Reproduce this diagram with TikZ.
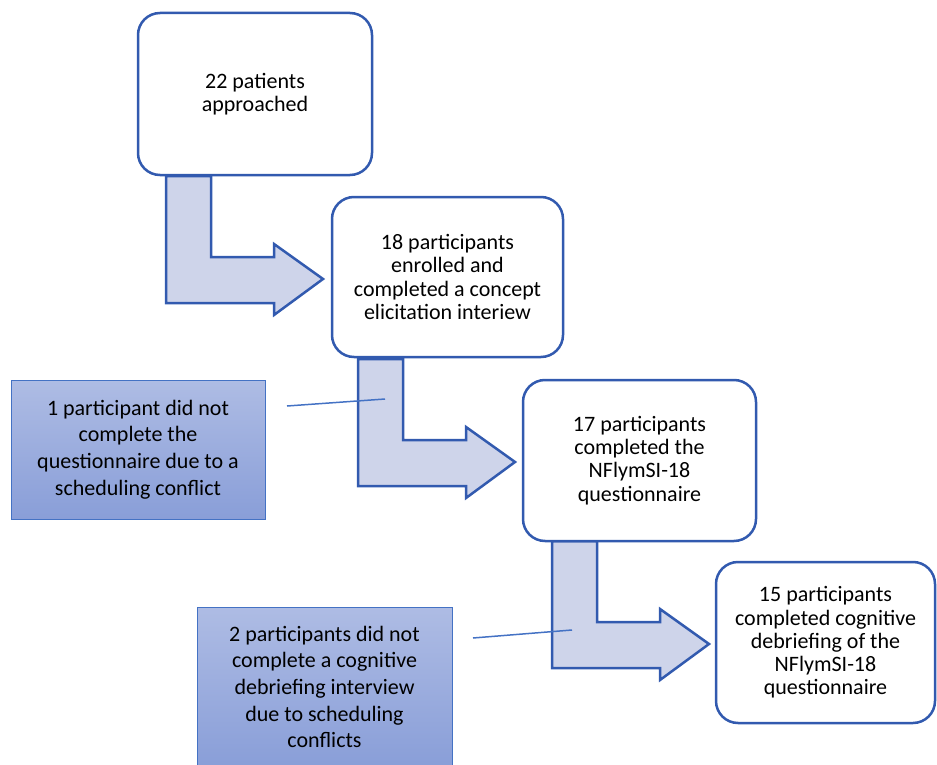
\documentclass[tikz,border=0pt]{standalone}
\usepackage{fontspec}
\setmainfont{Carlito}
\usetikzlibrary{positioning}
\definecolor{flowblue}{RGB}{50,90,175}
\definecolor{arrowfill}{RGB}{206,212,234}
\definecolor{dropblue}{RGB}{68,114,196}
\definecolor{droptop}{RGB}{174,188,228}
\definecolor{dropbot}{RGB}{137,158,216}

\begin{document}
\begin{tikzpicture}[x=1pt, y=-1pt,
	stage/.style={draw=flowblue, line width=2.5pt, fill=white, rounded corners=22pt, align=center, font=\fontsize{22}{23.3}\selectfont},
	dropout/.style={draw=dropblue, line width=1pt, top color=droptop, bottom color=dropbot, align=center, font=\fontsize{22}{26.7}\selectfont},
	bentarrow/.style={draw=flowblue, line width=2.5pt, fill=arrowfill, line join=miter},
	note/.style={draw=dropblue, line width=1.5pt}]
			\useasboundingbox (0,0) rectangle (937,765);
			\clip (0,0) rectangle (937,765);
			
			% bent arrows between the stages
			\foreach \dx/\dy in {166/176, 358/359, 552/541}
				\draw[bentarrow, shift={(\dx,\dy)}] (0,0) -- (45,0) -- (45,81) -- (108,81) -- (108,68) -- (157,103) -- (108,139) -- (108,127) -- (0,127) -- cycle;
			
			\node[stage, minimum width=234pt, minimum height=162pt] (approached) at (255,94) {22 patients\\approached};
			\node[stage, minimum width=231pt, minimum height=160pt] (enrolled) at (447.5,277) {18 participants\\enrolled and\\completed a concept\\elicitation interiew};
			\node[stage, minimum width=233pt, minimum height=161pt] (completed) at (639.5,460.5) {17 participants\\completed the\\NFlymSI-18\\questionnaire};
			\node[stage, minimum width=219pt, minimum height=161pt] (debriefed) at (825.5,642.5) {15 participants\\completed cognitive\\debriefing of the\\NFlymSI-18\\questionnaire};
			
			% drop-outs
			\node[dropout, minimum width=254pt, minimum height=139pt] (conflict) at (138,449.5) {1 participant did not\\complete the\\questionnaire due to a\\scheduling conflict};
			\node[dropout, minimum width=255pt, minimum height=160pt] (conflicts) at (324.5,687) {2 participants did not\\complete a cognitive\\debriefing interview\\due to scheduling\\conflicts};
			
			\coordinate (conflict end) at (287,406);
			\coordinate (arrow two) at (385,399);
			\coordinate (conflicts end) at (473,638);
			\coordinate (arrow three) at (572,630);
			\draw[note] (conflict end) -- (arrow two);
			\draw[note] (conflicts end) -- (arrow three);
		\end{tikzpicture}
\end{document}
